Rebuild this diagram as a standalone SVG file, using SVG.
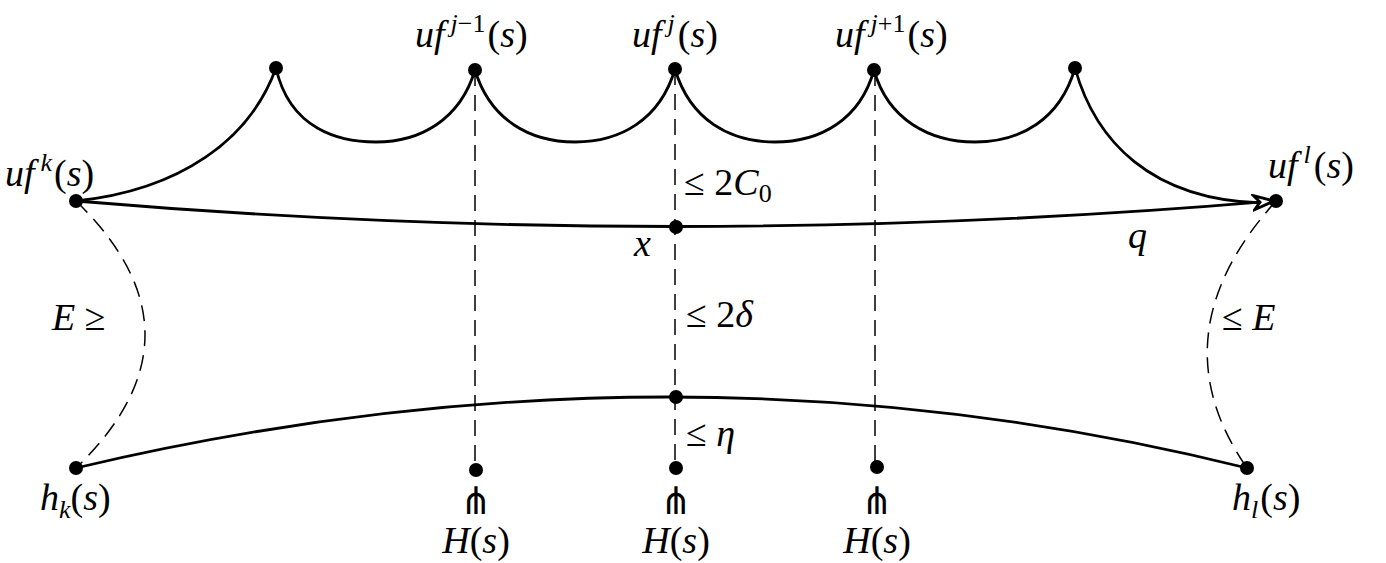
<svg xmlns="http://www.w3.org/2000/svg" width="1386" height="563" viewBox="0 0 1386 563">
<style>
.l{fill:none;stroke:#000;stroke-width:2.8}
.d{fill:none;stroke:#000;stroke-width:1.5;stroke-dasharray:16 9}
text{font-family:"Liberation Serif","DejaVu Serif",serif;font-size:38px;fill:#000}
.i{font-style:italic}
</style>
<defs>
<marker id="ah" viewBox="0 0 24 18" refX="22" refY="9" markerWidth="24" markerHeight="18" markerUnits="userSpaceOnUse" orient="auto">
<path d="M2,2 L22,9 L2,16 L8,9 Z" fill="#fff" stroke="#000" stroke-width="2.8" stroke-linejoin="miter"/>
</marker>
</defs>
<rect width="1386" height="563" fill="#fff"/>
<g id="connectors">
<path class="l" d="M76,201 C180,190 250,140 276,68 C290,130 340,142 376,142 C420,142 460,120 475,70 C490,120 530,142 575,142 C620,142 660,120 675,69 C690,120 730,142 775,142 C820,142 860,120 874,70 C888,120 930,142 975,142 C1020,142 1060,120 1075,68 C1095,140 1150,200 1262,203"/>
<path class="l" d="M76,201 Q676,252 1274,201" marker-end="url(#ah)"/>
<path class="l" d="M76,468 Q676,326 1247,468"/>
<path class="d" d="M76,201 Q214,335 76,468"/>
<path class="d" d="M1276,201 Q1155,335 1247,468"/>
<path class="d" d="M475,70 V470"/>
<path class="d" d="M675,69 V468"/>
<path class="d" d="M875,70 V467"/>
</g>
<g id="nodes">
<g id="ufk"><circle cx="76" cy="201" r="7"/><text x="5" y="186"><tspan class="i">uf</tspan><tspan class="i" font-size="26" dx="6" dy="-15">k</tspan><tspan dx="2" dy="15">(</tspan><tspan class="i">s</tspan>)</text></g>
<g id="c1"><circle cx="276" cy="68" r="7"/></g>
<g id="ufj-1"><circle cx="475" cy="70" r="7"/><text x="415" y="47"><tspan class="i">uf</tspan><tspan font-size="26" dx="6" dy="-15"><tspan class="i">j</tspan>−1</tspan><tspan dx="2" dy="15">(</tspan><tspan class="i">s</tspan>)</text></g>
<g id="ufj"><circle cx="675" cy="69" r="7"/><text x="632" y="47"><tspan class="i">uf</tspan><tspan class="i" font-size="26" dx="6" dy="-15">j</tspan><tspan dx="3" dy="15">(</tspan><tspan class="i">s</tspan>)</text></g>
<g id="ufj+1"><circle cx="874" cy="70" r="7"/><text x="835" y="47"><tspan class="i">uf</tspan><tspan font-size="26" dx="6" dy="-15"><tspan class="i">j</tspan>+1</tspan><tspan dx="2" dy="15">(</tspan><tspan class="i">s</tspan>)</text></g>
<g id="c5"><circle cx="1075" cy="68" r="7"/></g>
<g id="ufl"><circle cx="1276" cy="201" r="7"/><text x="1268" y="178"><tspan class="i">uf</tspan><tspan class="i" font-size="26" dx="6" dy="-15">l</tspan><tspan dx="3" dy="15">(</tspan><tspan class="i">s</tspan>)</text></g>
<g id="x"><circle cx="676" cy="227" r="7"/><text class="i" x="634" y="256">x</text></g>
<g id="mid"><circle cx="676" cy="397" r="7"/></g>
<g id="hk"><circle cx="76" cy="468" r="7"/><text x="40" y="510"><tspan class="i">h</tspan><tspan class="i" font-size="26" dy="8">k</tspan><tspan dy="-8">(</tspan><tspan class="i">s</tspan>)</text></g>
<g id="hl"><circle cx="1247" cy="468" r="7"/><text x="1232" y="510"><tspan class="i">h</tspan><tspan class="i" font-size="26" dy="8">l</tspan><tspan dx="2" dy="-8">(</tspan><tspan class="i">s</tspan>)</text></g>
<g id="H1"><circle cx="476" cy="470" r="7"/><text x="476" y="514" text-anchor="middle" font-size="30">⋔</text><text x="476" y="553" text-anchor="middle"><tspan class="i">H</tspan>(<tspan class="i">s</tspan>)</text></g>
<g id="H2"><circle cx="676" cy="468" r="7"/><text x="676" y="514" text-anchor="middle" font-size="30">⋔</text><text x="676" y="553" text-anchor="middle"><tspan class="i">H</tspan>(<tspan class="i">s</tspan>)</text></g>
<g id="H3"><circle cx="877" cy="467" r="7"/><text x="877" y="514" text-anchor="middle" font-size="30">⋔</text><text x="877" y="553" text-anchor="middle"><tspan class="i">H</tspan>(<tspan class="i">s</tspan>)</text></g>
</g>
<g id="labels">
<text x="684" y="195">≤ 2<tspan class="i">C</tspan><tspan font-size="26" dy="7">0</tspan></text>
<text x="686" y="327">≤ 2<tspan class="i">δ</tspan></text>
<text x="686" y="446">≤ <tspan class="i">η</tspan></text>
<text class="i" x="1128" y="248">q</text>
<text x="52" y="330"><tspan class="i">E</tspan> ≥</text>
<text x="1222" y="330">≤ <tspan class="i">E</tspan></text>
</g>
</svg>
